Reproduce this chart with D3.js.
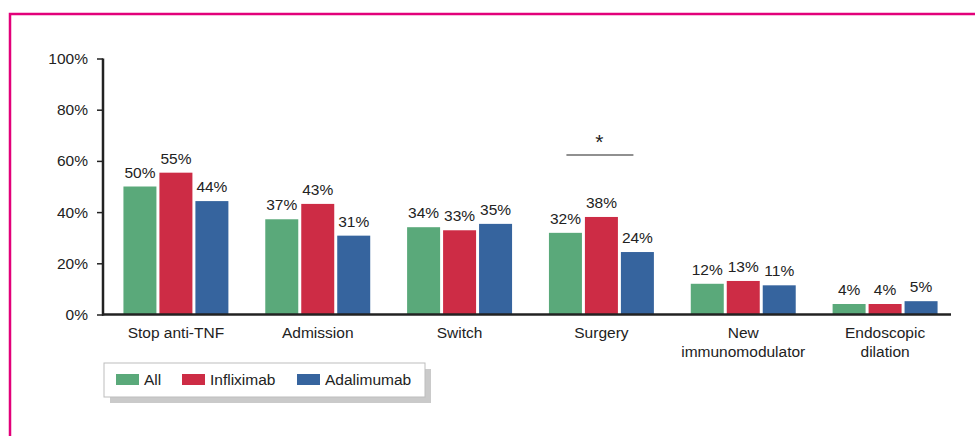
<!DOCTYPE html>
<html>
<head>
<meta charset="utf-8">
<script src="https://cdn.jsdelivr.net/npm/d3@7"></script>
<style>
  body { margin: 0; background: #fff; }
  svg { display: block; font-family: "Liberation Sans", Arial, sans-serif; }
  .axis path, .axis line { stroke: #222; }
  .axis text { font-size: 15.5px; fill: #222; }
</style>
</head>
<body>
<svg width="975" height="436"></svg>
<script>
// data
const categories = ['Stop anti-TNF', 'Admission', 'Switch', 'Surgery', 'New\nimmunomodulator', 'Endoscopic\ndilation'];
const seriesNames = ['All', 'Infliximab', 'Adalimumab'];
const allValues = [50, 37.2, 34.1, 31.9, 12, 4.1];
const inflixValues = [55.4, 43.2, 32.9, 38.1, 13.1, 4.1];
const adaliValues = [44.3, 30.8, 35.4, 24.4, 11.4, 5.2];
const yTicks = [0, 20, 40, 60, 80, 100];
const colors = ['#5aa97a', '#cd2c45', '#36649e'];

const seriesValues = [allValues, inflixValues, adaliValues];

const svg = d3.select('svg');

// magenta frame (top + left edge)
svg.append('path')
  .attr('d', 'M10,436V14H975')
  .attr('fill', 'none')
  .attr('stroke', '#e2007a')
  .attr('stroke-width', 2.5);

const y = d3.scaleLinear().domain([0, 100]).range([314.5, 58.5]);
const x0 = d3.scaleBand().domain(categories).range([105, 956]).paddingInner(0.26).paddingOuter(0.13);
const x1 = d3.scaleBand().domain(seriesNames).range([0, x0.bandwidth()]).paddingInner(0.083);

// bars
const groups = svg.append('g').selectAll('g')
  .data(categories)
  .join('g')
  .attr('transform', (d) => `translate(${x0(d)},0)`);

groups.selectAll('rect')
  .data((d, i) => seriesNames.map((s, j) => ({ s, j, v: seriesValues[j][i] })))
  .join('rect')
  .attr('x', (d) => x1(d.s))
  .attr('width', x1.bandwidth())
  .attr('y', (d) => y(d.v))
  .attr('height', (d) => y(0) - y(d.v))
  .attr('fill', (d) => colors[d.j]);

groups.selectAll('text.val')
  .data((d, i) => seriesNames.map((s, j) => ({ s, j, v: seriesValues[j][i] })))
  .join('text')
  .attr('class', 'val')
  .attr('x', (d) => x1(d.s) + x1.bandwidth() / 2)
  .attr('y', (d) => y(d.v) - 9)
  .attr('text-anchor', 'middle')
  .attr('font-size', 15.5)
  .attr('fill', '#222')
  .text((d) => Math.round(d.v) + '%');

// y axis
const yAxis = svg.append('g')
  .attr('class', 'axis')
  .attr('transform', 'translate(103,0)')
  .call(d3.axisLeft(y).tickValues(yTicks).tickSize(6).tickPadding(9).tickFormat((d) => d + '%'));
yAxis.select('.domain').remove();
yAxis.selectAll('line').attr('stroke-width', 1.5);
yAxis.append('line')
  .attr('x1', 0).attr('x2', 0)
  .attr('y1', y(100)).attr('y2', y(0) + 1)
  .attr('stroke', '#222').attr('stroke-width', 2.5);

// x axis line
svg.append('line')
  .attr('x1', 102).attr('x2', 951)
  .attr('y1', y(0)).attr('y2', y(0))
  .attr('stroke', '#222').attr('stroke-width', 2.5);

// category labels
const catLabels = svg.append('g').selectAll('text')
  .data(categories)
  .join('text')
  .attr('text-anchor', 'middle')
  .attr('font-size', 15.5)
  .attr('fill', '#222')
  .attr('transform', (d) => `translate(${x0(d) + x0.bandwidth() / 2},338)`);
catLabels.selectAll('tspan')
  .data((d) => d.split('\n'))
  .join('tspan')
  .attr('x', 0)
  .attr('dy', (d, i) => (i === 0 ? 0 : 19))
  .text((d) => d);

// significance marker over Surgery
const sx = x0('Surgery') + x0.bandwidth() / 2;
svg.append('line')
  .attr('x1', sx - 35).attr('x2', sx + 32)
  .attr('y1', 155).attr('y2', 155)
  .attr('stroke', '#222').attr('stroke-width', 1.2);
svg.append('text')
  .attr('x', sx - 2)
  .attr('y', 149)
  .attr('text-anchor', 'middle')
  .attr('font-size', 21)
  .attr('fill', '#222')
  .text('*');

// legend
const legend = svg.append('g').attr('transform', 'translate(104,363)');
legend.append('rect')
  .attr('x', 6).attr('y', 6).attr('width', 321).attr('height', 34)
  .attr('fill', '#cacaca');
legend.append('rect')
  .attr('x', 0).attr('y', 0).attr('width', 321).attr('height', 34)
  .attr('fill', '#fff').attr('stroke', '#bdbdbd').attr('stroke-width', 1);
const legendX = [12, 78, 193];
seriesNames.forEach((s, i) => {
  legend.append('rect')
    .attr('x', legendX[i]).attr('y', 11).attr('width', 23).attr('height', 11)
    .attr('fill', colors[i]);
  legend.append('text')
    .attr('x', legendX[i] + 28).attr('y', 22)
    .attr('font-size', 15.5)
    .attr('fill', '#222')
    .text(s);
});
</script>
</body>
</html>
